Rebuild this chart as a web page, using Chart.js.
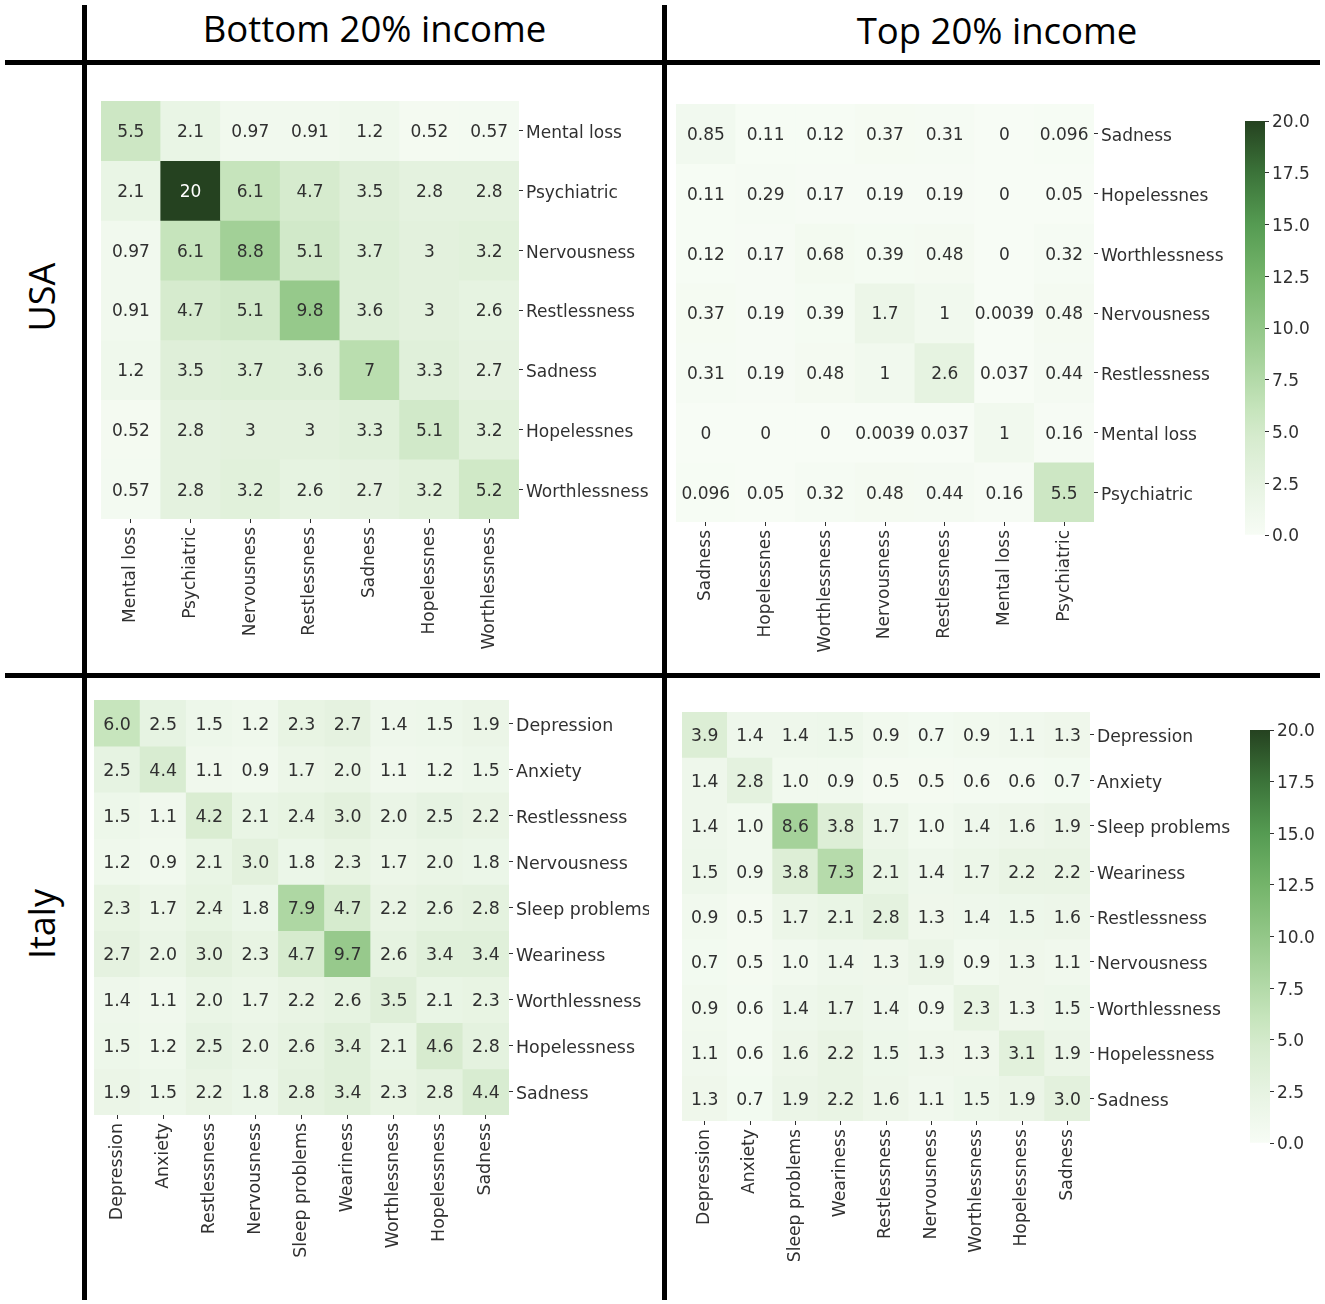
<!DOCTYPE html>
<html><head><meta charset="utf-8">
<script src="https://cdn.jsdelivr.net/npm/chart.js@4.4.0/dist/chart.umd.min.js"></script>
<style>
html,body{margin:0;padding:0;background:#fff;}
#page{position:relative;width:1325px;height:1304px;overflow:hidden;background:#fff;}
.line{position:absolute;background:#000;z-index:5;}
.title{position:absolute;font-family:"Open Sans",sans-serif;color:#000;white-space:nowrap;text-align:center;}
.side{position:absolute;font-family:"Open Sans",sans-serif;color:#000;white-space:nowrap;transform:rotate(-90deg);transform-origin:center center;text-align:center;}
canvas{position:absolute;}
</style></head><body>
<div id="page">
  <div class="line" style="left:82px;top:5px;width:5px;height:1295px;"></div>
  <div class="line" style="left:662px;top:5px;width:5px;height:1295px;"></div>
  <div class="line" style="left:5px;top:60px;width:1315px;height:5px;"></div>
  <div class="line" style="left:5px;top:673px;width:1315px;height:5px;"></div>
  <div class="title" style="left:87px;width:575px;top:5px;font-size:36.5px;line-height:46px;">Bottom 20% income</div>
  <div class="title" style="left:667px;width:660px;top:7px;font-size:36.5px;line-height:46px;">Top 20% income</div>
  <div class="side" style="left:-58px;width:200px;top:275px;font-size:36px;line-height:44px;">USA</div>
  <div class="side" style="left:-58px;width:200px;top:902px;font-size:36px;line-height:44px;">Italy</div>
  <canvas id="usaBottom"></canvas>
  <canvas id="usaTop"></canvas>
  <canvas id="itBottom"></canvas>
  <canvas id="itTop"></canvas>
  <canvas id="cbTop"></canvas>
  <canvas id="cbBottom"></canvas>
</div>
<script>
// ---------------- DATA ----------------
const usaBottomLabels = ["Mental loss","Psychiatric","Nervousness","Restlessness","Sadness","Hopelessnes","Worthlessness"];
const usaBottomValues = [
  [5.5, 2.1, 0.97, 0.91, 1.2, 0.52, 0.57],
  [2.1, 20, 6.1, 4.7, 3.5, 2.8, 2.8],
  [0.97, 6.1, 8.8, 5.1, 3.7, 3, 3.2],
  [0.91, 4.7, 5.1, 9.8, 3.6, 3, 2.6],
  [1.2, 3.5, 3.7, 3.6, 7, 3.3, 2.7],
  [0.52, 2.8, 3, 3, 3.3, 5.1, 3.2],
  [0.57, 2.8, 3.2, 2.6, 2.7, 3.2, 5.2]
];
const usaTopLabels = ["Sadness","Hopelessnes","Worthlessness","Nervousness","Restlessness","Mental loss","Psychiatric"];
const usaTopValues = [
  [0.85, 0.11, 0.12, 0.37, 0.31, 0, 0.096],
  [0.11, 0.29, 0.17, 0.19, 0.19, 0, 0.05],
  [0.12, 0.17, 0.68, 0.39, 0.48, 0, 0.32],
  [0.37, 0.19, 0.39, 1.7, 1, 0.0039, 0.48],
  [0.31, 0.19, 0.48, 1, 2.6, 0.037, 0.44],
  [0, 0, 0, 0.0039, 0.037, 1, 0.16],
  [0.096, 0.05, 0.32, 0.48, 0.44, 0.16, 5.5]
];
const italyBottomLabels = ["Depression","Anxiety","Restlessness","Nervousness","Sleep problems","Weariness","Worthlessness","Hopelessness","Sadness"];
const italyBottomValues = [
  [6.0, 2.5, 1.5, 1.2, 2.3, 2.7, 1.4, 1.5, 1.9],
  [2.5, 4.4, 1.1, 0.9, 1.7, 2.0, 1.1, 1.2, 1.5],
  [1.5, 1.1, 4.2, 2.1, 2.4, 3.0, 2.0, 2.5, 2.2],
  [1.2, 0.9, 2.1, 3.0, 1.8, 2.3, 1.7, 2.0, 1.8],
  [2.3, 1.7, 2.4, 1.8, 7.9, 4.7, 2.2, 2.6, 2.8],
  [2.7, 2.0, 3.0, 2.3, 4.7, 9.7, 2.6, 3.4, 3.4],
  [1.4, 1.1, 2.0, 1.7, 2.2, 2.6, 3.5, 2.1, 2.3],
  [1.5, 1.2, 2.5, 2.0, 2.6, 3.4, 2.1, 4.6, 2.8],
  [1.9, 1.5, 2.2, 1.8, 2.8, 3.4, 2.3, 2.8, 4.4]
];
const italyTopLabels = ["Depression","Anxiety","Sleep problems","Weariness","Restlessness","Nervousness","Worthlessness","Hopelessness","Sadness"];
const italyTopValues = [
  [3.9, 1.4, 1.4, 1.5, 0.9, 0.7, 0.9, 1.1, 1.3],
  [1.4, 2.8, 1.0, 0.9, 0.5, 0.5, 0.6, 0.6, 0.7],
  [1.4, 1.0, 8.6, 3.8, 1.7, 1.0, 1.4, 1.6, 1.9],
  [1.5, 0.9, 3.8, 7.3, 2.1, 1.4, 1.7, 2.2, 2.2],
  [0.9, 0.5, 1.7, 2.1, 2.8, 1.3, 1.4, 1.5, 1.6],
  [0.7, 0.5, 1.0, 1.4, 1.3, 1.9, 0.9, 1.3, 1.1],
  [0.9, 0.6, 1.4, 1.7, 1.4, 0.9, 2.3, 1.3, 1.5],
  [1.1, 0.6, 1.6, 2.2, 1.5, 1.3, 1.3, 3.1, 1.9],
  [1.3, 0.7, 1.9, 2.2, 1.6, 1.1, 1.5, 1.9, 3.0]
];
const colorbarMin = 0;
const colorbarMax = 20;
const colorbarStep = 2.5;
const colorStops = [
  [0, '#f7fcf5'], [2, '#eaf5e6'], [4.7, '#d6ebce'], [6, '#c7e5bd'], [8.8, '#a2d097'],
  [10, '#93c788'], [12.5, '#74b46a'], [15, '#559b52'], [17.5, '#3b7339'], [20, '#254220']
];

// ---------------- HELPERS ----------------
const TXT = '#303030';
Chart.defaults.font.family = '"DejaVu Sans", sans-serif';
Chart.defaults.font.size = 17;
Chart.defaults.color = TXT;

function hexToRgb(h){ const n = parseInt(h.slice(1),16); return [(n>>16)&255,(n>>8)&255,n&255]; }
function colorFor(v){
  if (v <= colorStops[0][0]) return colorStops[0][1];
  for (let i = 1; i < colorStops.length; i++){
    if (v <= colorStops[i][0]){
      const [v0,c0] = colorStops[i-1], [v1,c1] = colorStops[i];
      const t = (v - v0)/(v1 - v0), a = hexToRgb(c0), b = hexToRgb(c1);
      return 'rgb(' + a.map((x,k)=>Math.round(x + (b[k]-x)*t)).join(',') + ')';
    }
  }
  return colorStops[colorStops.length-1][1];
}

function annotPlugin(values, fmt, fontSize){
  return { id:'annot', afterDatasetsDraw(chart){
    const ctx = chart.ctx; ctx.save();
    ctx.font = fontSize + 'px "DejaVu Sans", sans-serif';
    ctx.textAlign = 'center'; ctx.textBaseline = 'middle';
    values.forEach((row, r) => {
      const meta = chart.getDatasetMeta(r);
      row.forEach((v, c) => {
        const el = meta.data[c];
        ctx.fillStyle = v >= 12 ? '#ffffff' : TXT;
        ctx.fillText(fmt(v), el.x, (el.y + el.base)/2 + 2);
      });
    });
    ctx.restore();
  }};
}

function place(id, left, top, w, h){
  const c = document.getElementById(id);
  c.width = w; c.height = h;
  c.style.left = left + 'px'; c.style.top = top + 'px';
  c.style.width = w + 'px'; c.style.height = h + 'px';
  return c;
}

function makeHeatmap(id, labels, values, fmt, left, top, areaW, areaH, axisW, axisH, fontSize){
  const canvas = place(id, left, top, areaW + axisW, areaH + axisH);
  const n = labels.length;
  const datasets = values.map((row, r) => ({
    data: row.map(() => [r, r + 1]),
    backgroundColor: row.map(v => colorFor(v)),
    borderWidth: 0, borderSkipped: false,
    barPercentage: 1, categoryPercentage: 1, grouped: false
  }));
  const gridOpt = {display:true, drawOnChartArea:false, drawTicks:true, tickLength:4, color:TXT, lineWidth:1, offset:false};
  new Chart(canvas, {
    type: 'bar',
    data: {labels: labels, datasets: datasets},
    options: {
      responsive:false, animation:false, events:[],
      layout:{padding:0},
      plugins:{legend:{display:false}, tooltip:{enabled:false}},
      scales:{
        x:{type:'category', position:'bottom', offset:true, grid:gridOpt, border:{display:false},
           ticks:{maxRotation:90, minRotation:90, autoSkip:false, padding:4, color:TXT, font:{size:fontSize}},
           afterFit: s => { s.height = axisH; s.paddingLeft = 0; s.paddingRight = 0; }},
        y:{type:'linear', position:'right', min:0, max:n, reverse:true, grid:gridOpt, border:{display:false},
           afterBuildTicks: s => { s.ticks = labels.map((_, i) => ({value: i + 0.5})); },
           ticks:{autoSkip:false, padding:3, labelOffset:3, color:TXT, font:{size:fontSize}, callback:(v, i) => labels[i]},
           afterFit: s => { s.width = axisW; s.paddingTop = 0; s.paddingBottom = 0; }}
      }
    },
    plugins:[annotPlugin(values, fmt, fontSize)]
  });
}

function makeColorbar(id, left, top, areaW, areaH, axisW){
  const pad = 14;
  const canvas = place(id, left, top - pad, areaW + axisW, areaH + 2*pad);
  new Chart(canvas, {
    type:'bar',
    data:{labels:[''], datasets:[{
      data:[[colorbarMin, colorbarMax]], borderWidth:0, borderSkipped:false,
      barPercentage:1, categoryPercentage:1,
      backgroundColor: (ctx) => {
        const ch = ctx.chart, ys = ch.scales.y;
        if (!ch.chartArea || !ys) return colorFor(10);
        const g = ch.ctx.createLinearGradient(0, ys.getPixelForValue(colorbarMin), 0, ys.getPixelForValue(colorbarMax));
        colorStops.forEach(([v, c]) => g.addColorStop((v - colorbarMin)/(colorbarMax - colorbarMin), c));
        return g;
      }
    }]},
    options:{
      responsive:false, animation:false, events:[],
      layout:{padding:{top:pad, bottom:pad, left:0, right:0}},
      plugins:{legend:{display:false}, tooltip:{enabled:false}},
      scales:{
        x:{display:false, offset:true},
        y:{position:'right', min:colorbarMin, max:colorbarMax, border:{display:false},
           grid:{display:true, drawOnChartArea:false, tickLength:4, color:TXT},
           ticks:{stepSize:colorbarStep, autoSkip:false, padding:3, labelOffset:2, color:TXT, callback: v => Number(v).toFixed(1)},
           afterFit: s => { s.width = axisW; s.paddingTop = 0; s.paddingBottom = 0; }}
      }
    }
  });
}

const fmtG = v => String(v);
const fmt1 = v => v.toFixed(1);

makeHeatmap('usaBottom', usaBottomLabels, usaBottomValues, fmtG, 101, 101, 418, 418, 140, 150, 17);
makeHeatmap('usaTop', usaTopLabels, usaTopValues, fmtG, 676, 104, 418, 418, 145, 150, 17);
makeHeatmap('itBottom', italyBottomLabels, italyBottomValues, fmt1, 94, 700, 415, 415, 140, 160, 17.4);
makeHeatmap('itTop', italyTopLabels, italyTopValues, fmt1, 682, 712, 408, 409, 150, 160, 17.2);
makeColorbar('cbTop', 1245, 121, 20, 414, 75);
makeColorbar('cbBottom', 1250, 730, 20, 413, 70);
</script>
</body></html>
